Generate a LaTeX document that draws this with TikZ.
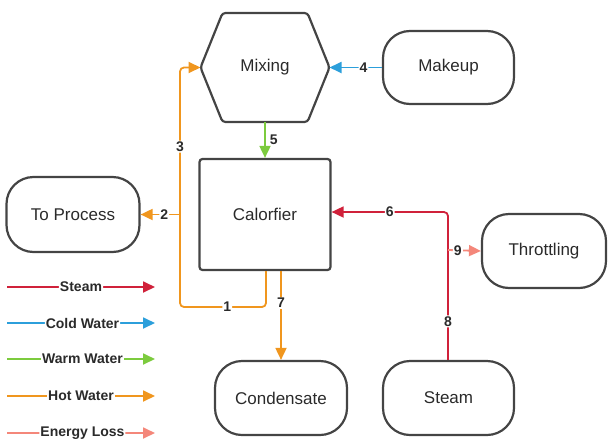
\documentclass[tikz,border=0pt]{standalone}
\usepackage{fontspec}
\setmainfont{Liberation Sans}
\usetikzlibrary{arrows.meta,calc}
\definecolor{steamc}{HTML}{D0213A}
\definecolor{coldc}{HTML}{2C9FDB}
\definecolor{warmc}{HTML}{7CCB3E}
\definecolor{hotc}{HTML}{F0961E}
\definecolor{lossc}{HTML}{F4877A}
\definecolor{edgec}{HTML}{444444}
\definecolor{txtc}{HTML}{2A2A2A}
\begin{document}
\begin{tikzpicture}[x=1pt,y=-1pt,
  boxtext/.style={text=txtc, font=\fontsize{17}{19}\selectfont},
  pill/.style={boxtext, draw=edgec, line width=2.2pt, rounded corners=27pt, minimum width=131pt, minimum height=73pt, inner sep=0pt},
  flow/.style={line width=1.8pt, rounded corners=4pt, -{Triangle[length=12pt,width=11pt]}},
  lbl/.style={fill=white, inner sep=1pt, text=txtc, font=\bfseries\fontsize{14}{16}\selectfont},
  leg/.style={fill=white, inner sep=1pt, text=txtc, font=\bfseries\fontsize{14}{16}\selectfont},
]
\useasboundingbox (0,0) rectangle (609,439);

% nodes
\node[boxtext, minimum width=129pt, minimum height=109pt, outer sep=0pt, inner sep=0pt] (mix) at (265,67.5) {Mixing};
\draw[draw=edgec, line width=2.2pt, rounded corners=3pt]
  (mix.west) -- ($(mix.north west)+(22,0)$) -- ($(mix.north east)+(-22,0)$) -- (mix.east)
  -- ($(mix.south east)+(-22,0)$) -- ($(mix.south west)+(22,0)$) -- cycle;
\node[pill] (makeup) at (448.5,67.5) {Makeup};
\node[boxtext, draw=edgec, line width=2.2pt, rounded corners=3pt, minimum width=131pt, minimum height=111pt] (cal) at (265,214.5) {Calorfier};
\node[pill, minimum width=133pt, minimum height=75pt] (proc) at (73,214.5) {To Process};
\node[pill, minimum width=124pt, minimum height=74pt] (thr) at (544,251) {Throttling};
\node[pill, minimum width=132pt, minimum height=74pt] (cond) at (281,398) {Condensate};
\node[pill, minimum width=131pt, minimum height=74pt] (steam) at (448.5,398) {Steam};

% coordinates
\coordinate (c1a) at (266,270);
\coordinate (c7a) at (281,270);
\coordinate (c8a) at (448,361);
\coordinate (j9) at (448,250);

% connectors
\draw[flow, coldc] (makeup.west) -- node[lbl, pos=0.35]{4} (mix.east);
\draw[flow, warmc] (mix.south) -- node[lbl, right, fill=none, xshift=3pt]{5} (cal.north);
\draw[flow, hotc] (cal.south -| c1a) -- (266,307) -- node[lbl, pos=0.45]{1} (180,307) -- node[lbl, pos=0.67]{3} (180,67.5) -- (mix.west);
\draw[flow, hotc] (180,214.5) -- node[lbl, pos=0.4]{2} (proc.east);
\draw[flow, hotc] (cal.south -| c7a) -- node[lbl, pos=0.36]{7} (cond.north -| c7a);
\draw[flow, steamc] (steam.north -| c8a) -- node[lbl, pos=0.26]{8} (448,212) -- node[lbl, pos=0.5]{6} (cal.east |- 0,212);
\draw[flow, lossc] (j9) -- node[lbl, pos=0.3]{9} (thr.west);

% legend
\draw[flow, steamc] (7,287) -- node[leg, pos=0.5]{Steam} (155,287);
\draw[flow, coldc] (7,323) -- node[leg, pos=0.51]{Cold Water} (155,323);
\draw[flow, warmc] (7,359) -- node[leg, pos=0.51]{Warm Water} (155,359);
\draw[flow, hotc] (7,396) -- node[leg, pos=0.5]{Hot Water} (155,396);
\draw[flow, lossc] (7,433) -- node[leg, pos=0.51]{Energy Loss} (155,433);
\end{tikzpicture}
\end{document}
